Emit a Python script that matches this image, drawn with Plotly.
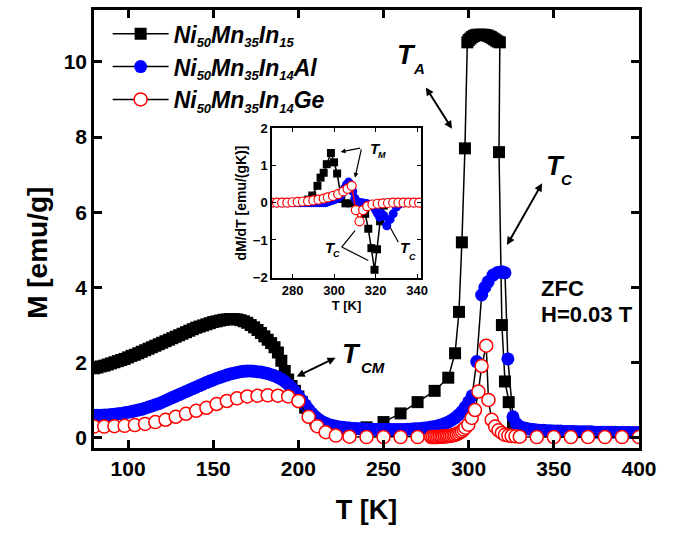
import plotly.graph_objects as go

# ---------------- main panel data: M(T), ZFC, H = 0.03 T ----------------
T_in15 = [80, 82, 84, 86, 88, 90, 92, 94, 96, 98,
          100, 102, 104, 106, 108, 110, 112, 114, 116, 118,
          120, 122, 124, 126, 128, 130, 132, 134, 136, 138,
          140, 142, 144, 146, 148, 150, 152, 154, 156, 158,
          160, 162, 164, 166, 168, 170, 172, 174, 176, 178,
          180, 182, 184, 186, 188, 190, 192, 194, 196, 198,
          200, 202, 204, 206, 208, 210, 212, 214, 216, 218,
          220, 222, 224, 226, 228, 230,
          240, 250, 260, 270, 280, 288, 292, 294.3, 296, 297.8,
          299.2, 300, 301, 302, 303, 304, 305, 306, 307, 308, 309, 310,
          311, 312, 313, 314, 315, 316, 317, 318.3,
          317.8, 319.5, 321.3, 323.5, 326, 330]
M_in15 = [1.85, 1.87, 1.90, 1.92, 1.95, 1.98, 2.01, 2.04, 2.07, 2.10,
          2.14, 2.18, 2.21, 2.25, 2.29, 2.33, 2.37, 2.41, 2.45, 2.49,
          2.53, 2.57, 2.61, 2.65, 2.69, 2.73, 2.77, 2.81, 2.85, 2.89,
          2.93, 2.96, 2.99, 3.02, 3.05, 3.08, 3.10, 3.12, 3.14, 3.15,
          3.16, 3.16, 3.15, 3.13, 3.10, 3.06, 3.00, 2.94, 2.87, 2.79,
          2.70, 2.61, 2.52, 2.41, 2.27, 2.05, 1.78, 1.55, 1.38, 1.25,
          1.10, 0.95, 0.80, 0.66, 0.55, 0.46, 0.39, 0.33, 0.29, 0.26,
          0.23, 0.21, 0.20, 0.19, 0.19, 0.21,
          0.28, 0.42, 0.65, 0.95, 1.25, 1.60, 2.25, 3.35, 5.20, 7.70,
          10.52, 10.58, 10.62, 10.66, 10.69, 10.71, 10.72, 10.72, 10.72, 10.72, 10.72, 10.71,
          10.70, 10.68, 10.66, 10.63, 10.60, 10.57, 10.54, 10.52,
          7.60, 3.00, 1.50, 0.95, 0.40, 0.20]

T_al = [80, 82, 84, 86, 88, 90, 92, 94, 96, 98,
        100, 102, 104, 106, 108, 110, 112, 114, 116, 118,
        120, 122, 124, 126, 128, 130, 132, 134, 136, 138,
        140, 142, 144, 146, 148, 150, 152, 154, 156, 158,
        160, 162, 164, 166, 168, 170, 172, 174, 176, 178,
        180, 182, 184, 186, 188, 190, 192, 194, 196, 198,
        200, 202, 204, 206, 208, 210, 212, 214, 216, 218,
        220, 222, 224, 226, 228, 230, 232, 234, 236, 238,
        240, 242, 244, 246, 248, 250, 252, 254, 256, 258,
        260, 262, 264, 266, 268, 270, 272, 274, 276, 278,
        280, 282, 284, 286, 288, 290, 292, 294, 296, 298,
        300, 302, 304.7, 307.6, 309.5, 311.4, 314.3, 317, 319.4, 321.3,
        323, 326, 328,
        330, 332, 334, 336, 338, 340, 342, 344, 346, 348,
        350, 352, 354, 356, 358, 360, 362, 364, 366, 368,
        370, 372, 374, 376, 378, 380, 382, 384, 386, 388,
        390, 392, 394, 396, 398, 400]
M_al = [0.60, 0.60, 0.60, 0.61, 0.61, 0.62, 0.63, 0.64, 0.65, 0.67,
        0.68, 0.70, 0.72, 0.74, 0.76, 0.79, 0.82, 0.85, 0.88, 0.91,
        0.95, 0.99, 1.03, 1.07, 1.11, 1.15, 1.19, 1.23, 1.27, 1.31,
        1.35, 1.39, 1.43, 1.47, 1.51, 1.54, 1.58, 1.61, 1.64, 1.67,
        1.70, 1.72, 1.74, 1.76, 1.77, 1.78, 1.78, 1.77, 1.76, 1.75,
        1.73, 1.71, 1.68, 1.65, 1.61, 1.56, 1.50, 1.42, 1.33, 1.23,
        1.12, 1.00, 0.88, 0.76, 0.65, 0.56, 0.49, 0.43, 0.39, 0.35,
        0.33, 0.31, 0.29, 0.28, 0.27, 0.26, 0.25, 0.25, 0.24, 0.24,
        0.23, 0.23, 0.23, 0.22, 0.22, 0.22, 0.22, 0.22, 0.22, 0.22,
        0.22, 0.22, 0.23, 0.23, 0.24, 0.24, 0.25, 0.26, 0.27, 0.29,
        0.30, 0.32, 0.35, 0.38, 0.42, 0.47, 0.53, 0.61, 0.70, 0.82,
        0.96, 1.12, 2.03, 3.80, 4.00, 4.15, 4.33, 4.40, 4.42, 4.39,
        2.10, 0.56, 0.38,
        0.30, 0.27, 0.25, 0.23, 0.22, 0.21, 0.20, 0.20, 0.19, 0.19,
        0.18, 0.18, 0.18, 0.17, 0.17, 0.17, 0.17, 0.16, 0.16, 0.16,
        0.16, 0.16, 0.15, 0.15, 0.15, 0.15, 0.15, 0.15, 0.15, 0.14,
        0.14, 0.14, 0.14, 0.14, 0.14, 0.14]

T_ge = [80, 86, 92, 98, 104, 110, 116, 122, 128, 134,
        140, 146, 152, 158, 164, 170, 176, 182, 188, 194,
        200, 206, 211, 216, 222, 230, 240, 250, 260, 270,
        278, 279, 280, 281, 282, 283, 284, 285, 286, 287,
        288, 289, 290, 291, 292, 293, 294, 295, 296, 297,
        298, 299.8, 301.8, 303.7, 305.7, 307.6, 310.3, 311.6, 313.5, 315.5,
        317.5, 319.5, 321.3, 323.3, 325.2, 327.5, 330, 340, 350, 360,
        370, 380, 390, 400]
M_ge = [0.30, 0.30, 0.31, 0.32, 0.34, 0.37, 0.42, 0.48, 0.56, 0.64,
        0.72, 0.80, 0.90, 0.98, 1.05, 1.10, 1.12, 1.13, 1.12, 1.10,
        0.98, 0.56, 0.31, 0.15, 0.06, 0.03, 0.02, 0.02, 0.02, 0.02,
        0.02, 0.02, 0.02, 0.02, 0.02, 0.03, 0.03, 0.03, 0.04, 0.04,
        0.05, 0.05, 0.06, 0.07, 0.08, 0.10, 0.12, 0.15, 0.18, 0.22,
        0.27, 0.35, 0.53, 0.74, 1.23, 1.91, 2.45, 1.01, 0.48, 0.30,
        0.20, 0.13, 0.08, 0.06, 0.05, 0.04, 0.03, 0.02, 0.02, 0.02,
        0.02, 0.02, 0.02, 0.02]

# ---------------- inset data: dM/dT ----------------
Ti_in15 = [270, 273, 276, 279, 282, 285, 287.5, 289.5, 292, 293.5,
           295, 296.5, 298.5, 300, 301.5, 303.5, 305.5, 308, 311, 313.5,
           315, 316.5, 318, 319.5, 320.7, 322.2, 324, 327, 331, 335, 339]
D_in15 = [0, 0, 0, 0, 0, 0.02, 0.08, 0.19, 0.45, 0.67,
          0.80, 1.03, 1.33, 1.08, 0.78, 0.10, -0.02, -0.02, -0.03, -0.10,
          -0.30, -0.70, -1.22, -1.80, -1.25, -0.50, -0.08, 0, 0, 0, 0]

Ti_al = [270, 271, 272, 273, 274, 275, 276, 277, 278, 279,
         280, 281, 282, 283, 284, 285, 286, 287, 288, 289,
         290, 291, 292, 293, 294, 295, 296, 297, 298, 299,
         300, 301, 302, 303, 304, 305, 306, 307, 308, 309,
         310, 311, 312, 313, 314, 315, 316, 317, 318, 319,
         320, 321, 322, 323, 324, 325.4, 327, 328.5, 330, 331,
         332, 334, 336, 338, 340, 342]
D_al = [0, 0, 0, 0, 0, 0, 0, 0, 0, 0,
        0, 0, 0, 0, 0, 0, 0, 0, 0, 0,
        0, 0, 0, 0, 0, 0, 0, 0.02, 0.04, 0.06,
        0.08, 0.10, 0.13, 0.18, 0.26, 0.38, 0.48, 0.55, 0.48, 0.30,
        0.12, 0.04, 0, 0, -0.01, -0.02, -0.03, -0.05, -0.07, -0.10,
        -0.20, -0.30, -0.39, -0.30, -0.35, -0.62, -0.45, -0.30, -0.12, -0.05,
        -0.02, 0, 0, 0, 0, 0]

Ti_ge = [270, 272.5, 275, 277.5, 280, 282.5, 285, 287.5, 290, 292.5,
         295, 297, 299.5, 302, 304.5, 306.5, 308.5, 310.5, 312.3, 314,
         316, 318.5, 321, 323.5, 326, 328.5, 331, 333.5, 336, 338.5, 341]
D_ge = [0, 0, 0, 0, 0.01, 0.02, 0.03, 0.04, 0.06, 0.08,
        0.11, 0.14, 0.18, 0.23, 0.30, 0.37, 0.45, -0.20, -0.50, -0.20,
        -0.10, -0.05, -0.03, -0.02, -0.01, 0, 0, 0, 0, 0, 0]

x_ticks = [100, 150, 200, 250, 300, 350, 400]
y_ticks = [0, 2, 4, 6, 8, 10]
xi_ticks = [280, 300, 320, 340]
yi_ticks = [-2, -1, 0, 1, 2]

SUB = "<sub><span style='font-size:13px'>%s</span></sub>"
names = ["Ni" + SUB % "50" + "Mn" + SUB % "35" + "In" + SUB % "15",
         "Ni" + SUB % "50" + "Mn" + SUB % "35" + "In" + SUB % "14" + "Al",
         "Ni" + SUB % "50" + "Mn" + SUB % "35" + "In" + SUB % "14" + "Ge"]

FONT = "Liberation Sans, Arial, sans-serif"

fig = go.Figure()
fig.add_trace(go.Scatter(x=T_in15, y=M_in15, mode="lines+markers", name=names[0],
                         line=dict(color="black", width=1.5),
                         marker=dict(symbol="square", size=12, color="black")))
fig.add_trace(go.Scatter(x=T_al, y=M_al, mode="lines+markers", name=names[1],
                         line=dict(color="black", width=1.5),
                         marker=dict(symbol="circle", size=13, color="#0000ff")))
fig.add_trace(go.Scatter(x=T_ge, y=M_ge, mode="lines+markers", name=names[2],
                         line=dict(color="black", width=1.5),
                         marker=dict(symbol="circle", size=13, color="white",
                                     line=dict(color="#ff0000", width=1.5))))

fig.add_trace(go.Scatter(x=Ti_in15, y=D_in15, mode="lines+markers", showlegend=False,
                         xaxis="x2", yaxis="y2",
                         line=dict(color="black", width=1.5),
                         marker=dict(symbol="square", size=8, color="black")))
fig.add_trace(go.Scatter(x=Ti_al, y=D_al, mode="lines+markers", showlegend=False,
                         xaxis="x2", yaxis="y2",
                         line=dict(color="#0000ff", width=1.5),
                         marker=dict(symbol="circle", size=9, color="#0000ff")))
fig.add_trace(go.Scatter(x=Ti_ge, y=D_ge, mode="lines+markers", showlegend=False,
                         xaxis="x2", yaxis="y2",
                         line=dict(color="#ff0000", width=1.5),
                         marker=dict(symbol="circle", size=9, color="white",
                                     line=dict(color="#ff0000", width=1.2))))

main_ax = dict(showline=True, linewidth=2.5, linecolor="black", mirror="ticks",
               ticks="inside", ticklen=8, tickwidth=2.5, tickcolor="black",
               showgrid=False, zeroline=False)
inset_ax = dict(showline=True, linewidth=1.5, linecolor="black", mirror="ticks",
                ticks="inside", ticklen=4, tickwidth=1.2, tickcolor="black",
                showgrid=False, zeroline=False, tickfont=dict(size=13))

fig.update_layout(
    width=673, height=534,
    margin=dict(l=94, r=34, t=10, b=86, autoexpand=False),
    paper_bgcolor="white", plot_bgcolor="white",
    font=dict(family=FONT, color="black", weight="bold"),
    legend=dict(x=0.025, y=0.995, xanchor="left", yanchor="top",
                bgcolor="rgba(0,0,0,0)", itemwidth=56,
                font=dict(size=23, style="italic", weight="bold")),
    xaxis=dict(domain=[0, 1], range=[80, 400], tickvals=x_ticks,
               tickfont=dict(size=21),
               title=dict(text="T [K]", font=dict(size=27), standoff=22), **main_ax),
    yaxis=dict(domain=[0, 1], range=[-0.27, 11.38], tickvals=y_ticks,
               tickfont=dict(size=21), **main_ax),
    xaxis2=dict(domain=[0.3266, 0.600], anchor="y2", range=[270.1, 341.9], tickvals=xi_ticks,
                title=dict(text="T [K]", font=dict(size=13), standoff=2), **inset_ax),
    yaxis2=dict(domain=[0.3881, 0.7306], anchor="x2", range=[-2.02, 2.0], tickvals=yi_ticks,
                title=dict(text="dM/dT [emu/(gK)]", font=dict(size=14), standoff=3), **inset_ax),
)

ann = []
def txt(x, y, s, size, xref="x", yref="y", italic=True, xanchor="center", angle=0):
    ann.append(dict(x=x, y=y, xref=xref, yref=yref, text=s, showarrow=False,
                    xanchor=xanchor, yanchor="middle", textangle=angle,
                    font=dict(size=size, style="italic" if italic else "normal",
                              weight="bold", family=FONT, color="black")))

def arrow(x, y, ax, ay, xref="x", yref="y", both=True, head=2, width=2, size=0.8):
    ann.append(dict(x=x, y=y, ax=ax, ay=ay, xref=xref, yref=yref, axref=xref, ayref=yref,
                    text="", showarrow=True, arrowhead=head, arrowsize=size,
                    arrowwidth=width, arrowcolor="black",
                    arrowside="end+start" if both else "end", standoff=0, startstandoff=0))

# main y-axis title
txt(-0.105, 0.445, "M [emu/g]", 28, xref="paper", yref="paper", italic=False, angle=-90)

# main panel labels
txt(263.2, 10.19, "T", 27); txt(270.8, 9.83, "A", 15)
arrow(290.2, 8.22, 274.3, 9.36)
txt(350.7, 7.22, "T", 27); txt(358.0, 6.86, "C", 15)
arrow(322.5, 5.13, 343.6, 6.81)
txt(231.3, 2.23, "T", 27); txt(243.8, 1.88, "CM", 15)
arrow(199.0, 1.63, 222.7, 2.15)
txt(341.2, 3.96, "ZFC", 22, italic=False, xanchor="left")
txt(341.2, 3.27, "H=0.03 T", 22, italic=False, xanchor="left")

# inset labels
txt(320.0, 1.45, "T", 15, xref="x2", yref="y2"); txt(323.2, 1.28, "M", 9, xref="x2", yref="y2")
arrow(303.2, 1.36, 313.3, 1.47, xref="x2", yref="y2", both=False, width=1.2, size=0.8)
arrow(310.1, 0.67, 313.3, 1.47, xref="x2", yref="y2", both=False, width=1.2, size=0.8)
txt(298.2, -1.20, "T", 15, xref="x2", yref="y2"); txt(301.2, -1.37, "C", 9, xref="x2", yref="y2")
txt(334.2, -1.20, "T", 15, xref="x2", yref="y2"); txt(337.9, -1.47, "C", 9, xref="x2", yref="y2")
fig.update_layout(annotations=ann)

fig.add_shape(type="line", xref="x2", yref="y2", x0=303.7, y0=-1.19, x1=310.1, y1=-0.75,
              line=dict(color="black", width=1.2))
fig.add_shape(type="line", xref="x2", yref="y2", x0=303.7, y0=-1.19, x1=316.5, y1=-1.55,
              line=dict(color="black", width=1.2))
fig.add_shape(type="line", xref="x2", yref="y2", x0=331.0, y0=-1.06, x1=327.0, y1=-0.66,
              line=dict(color="black", width=1.2))

# remove the browser's default 8 px body margin so the figure fills the window exactly
fig.write_html("out.html", config={"displayModeBar": False},
               post_script="document.body.style.margin='0';")
